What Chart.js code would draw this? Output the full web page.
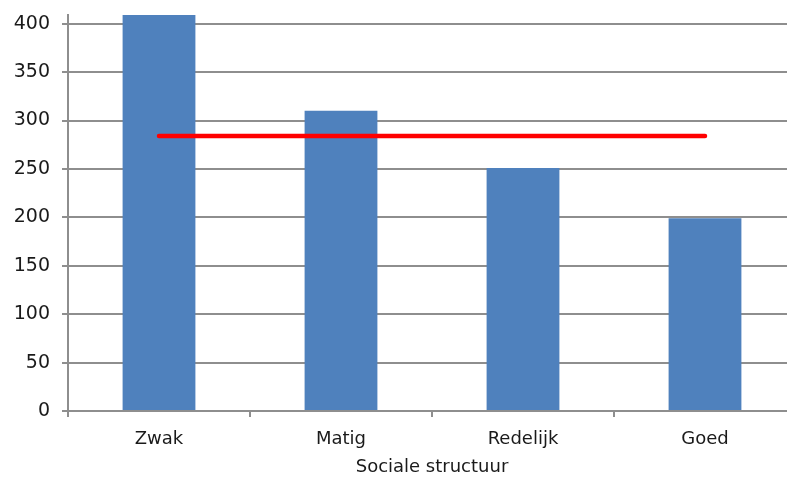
<!DOCTYPE html>
<html>
<head>
<meta charset="utf-8">
<script src="https://cdn.jsdelivr.net/npm/chart.js@4/dist/chart.umd.min.js"></script>
<style>
    html, body { margin: 0; padding: 0; background: #fff; overflow: hidden; }
    #wrap { width: 800px; height: 478px; position: relative; }
</style>
</head>
<body>
<div id="wrap"><canvas id="chart"></canvas></div>
<script>
// Chart values
const categories = ["Zwak", "Matig", "Redelijk", "Goed"];
const barValues = [420, 310, 251, 199];
const averageValues = [284, 284, 284, 284];
const axisTitle = "Sociale structuur";

const fontFamily = "'DejaVu Sans', sans-serif";
const textColor = "#1a1a1a";
const gridColor = "#8e8e8e";

let config = {
    data: {
        labels: categories,
        datasets: [
            {
                type: 'line',
                label: 'Gemiddelde',
                data: averageValues,
                borderColor: '#ff0000',
                borderWidth: 4.5,
                borderCapStyle: 'round',
                pointRadius: 0,
                fill: false,
                order: 0
            },
            {
                type: 'bar',
                label: 'Aantal',
                data: barValues,
                backgroundColor: '#4f81bd',
                borderWidth: 0,
                categoryPercentage: 1,
                barPercentage: 0.4,
                order: 1
            }
        ]
    },
    options: {
        animation: false,
        responsive: true,
        maintainAspectRatio: false,
        layout: {
            padding: { top: 15, right: 4, left: 0, bottom: 0 }
        },
        plugins: {
            legend: { display: false },
            tooltip: { enabled: false },
            title: { display: false }
        },
        scales: {
            x: {
                offset: true,
                grid: {
                    display: true,
                    offset: true,
                    drawOnChartArea: false,
                    drawTicks: true,
                    tickLength: 6,
                    color: gridColor,
                    lineWidth: 2
                },
                border: { display: true, color: gridColor, width: 2 },
                ticks: {
                    color: textColor,
                    font: { family: fontFamily, size: 18 },
                    padding: 12
                },
                title: {
                    display: true,
                    text: axisTitle,
                    color: textColor,
                    font: { family: fontFamily, size: 18 },
                    padding: { top: 3, bottom: 0 }
                },
                afterFit: function(scale) {
                    scale.height = 67;
                    scale.paddingLeft = 0;
                    scale.paddingRight = 0;
                }
            },
            y: {
                min: 0,
                max: 409,
                grid: {
                    color: gridColor,
                    lineWidth: 2,
                    tickLength: 6
                },
                border: { display: true, color: gridColor, width: 2 },
                ticks: {
                    stepSize: 50,
                    includeBounds: false,
                    color: textColor,
                    font: { family: fontFamily, size: 19 },
                    padding: 12
                },
                afterFit: function(scale) {
                    scale.width = 68;
                    scale.paddingTop = 0;
                    scale.paddingBottom = 0;
                }
            }
        }
    }
};

new Chart(document.getElementById('chart'), config);
</script>
</body>
</html>
